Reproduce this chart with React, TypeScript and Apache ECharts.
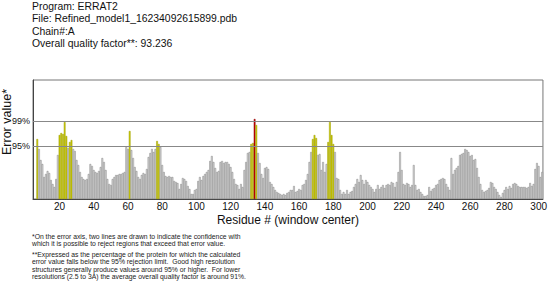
import React, { useEffect, useRef } from "react";
import * as echarts from "echarts";

// ERRAT2 error value per residue (window center), starting at residue 5
const firstResidue = 5;
const errorValues: (number | null)[] = [
  null, null, 12.0, 10.0, 7.8, 7.0, 4.4, 5.0, 5.6, 5.2, 3.8, 3.0, 2.4, 4.0, 8.8,
  12.8, 13.2, 13.0, 15.4, 12.6, 10.2, 11.4, 11.8, 10.0, 9.6, 7.8, 6.8, 5.4, 4.4, 4.0,
  3.8, 4.0, 5.0, 7.0, 6.6, 5.8, 5.4, 5.2, 5.6, 6.4, 8.2, 7.4, 5.8, 4.0, 3.0,
  2.8, 4.0, 4.4, 4.8, 4.8, 5.0, 5.0, 5.2, 5.4, 10.4, 10.0, 13.6, 9.8, 8.2, 6.4,
  5.6, 4.4, 4.0, 4.8, 5.2, 5.0, 6.0, 8.4, 9.2, 10.0, 9.4, 10.0, 11.6, 11.0, 10.4,
  6.8, 5.4, 4.6, 4.4, 4.6, 4.4, 4.4, 3.6, 3.4, 3.2, 2.0, 3.0, 4.2, 4.0, 3.6,
  2.6, 2.0, 1.0, 1.0, 1.8, 2.0, 3.6, 4.4, 3.8, 4.6, 5.0, 5.4, 5.8, 7.6, 8.6,
  7.4, 6.2, 5.4, 5.6, 7.4, 7.6, 7.2, 7.4, 7.4, 7.0, 6.4, 5.4, 4.0, 3.0, 2.8,
  2.0, 3.0, 2.4, 5.8, 7.4, 9.2, 9.4, 11.0, 11.2, 16.0, 14.8, 9.2, 7.2, 5.0, 4.2,
  6.2, 6.4, 6.0, 3.4, 3.0, 2.4, 1.8, 1.4, 1.2, 1.0, 0.8, 1.0, 0.8, 1.2, 1.4,
  1.8, 1.8, 2.6, 1.4, 1.6, 2.0, 1.8, 2.8, 3.0, 3.8, 5.0, 7.4, 9.4, 12.0, 12.8,
  12.2, 8.8, 9.0, 5.8, 7.4, 5.4, 7.0, 11.4, 15.4, 12.8, 11.0, 9.4, 4.2, 4.0, 1.8,
  1.0, 1.4, 1.0, 1.8, 1.0, 1.4, 1.6, 2.4, 3.0, 4.0, 3.4, 4.8, 3.8, 3.0, 3.8,
  3.4, 2.8, 2.4, 2.0, 1.4, 2.0, 2.8, 2.0, 2.4, 2.8, 2.2, 2.8, 3.0, 2.8, 3.4,
  3.2, 2.4, 3.4, 5.4, 9.4, 5.8, 3.0, 2.8, 3.2, 3.0, 2.4, 2.8, 6.8, 2.8, 1.8,
  2.0, 1.4, 1.0, 0.6, 0.6, 0.8, 2.4, 1.6, 2.0, 2.2, 2.8, 3.0, 3.8, 4.0, 4.2,
  4.0, 3.0, 2.4, 1.8, 8.2, 5.0, 5.8, 6.2, 6.6, 8.8, 9.0, 9.2, 10.0, 9.8, 9.4,
  8.6, 8.8, 7.8, 8.0, 6.2, 4.4, 3.0, 1.8, 1.4, 1.6, 1.8, 2.2, 3.4, 3.2, 2.4,
  2.0, 1.4, 0.8, 0.4, 1.2, 1.8, 2.4, 2.0, 2.6, 2.2, 3.0, 3.2, 3.0, 2.6, 2.4,
  2.4, 2.4, 2.4, 2.2, 2.4, 3.2, 2.6, 3.0, 6.0, 7.2, 6.6, 4.4, 5.4,
];
const residues = errorValues.map((_, i) => String(firstResidue + i));
const tickResidues = [20, 40, 60, 80, 100, 120, 140, 160, 180, 200, 220, 240, 260, 280, 300];
const limit99 = 15.6;
const limit95 = 10.6;
const yMax = 23.8;

const headerLines = [
  "Program: ERRAT2",
  "File: Refined_model1_16234092615899.pdb",
  "Chain#:A",
  "Overall quality factor**: 93.236",
];
const noteLines1 = [
  "*On the error axis, two lines are drawn to indicate the confidence with",
  "which it is possible to reject regions that exceed that error value.",
];
const noteLines2 = [
  "**Expressed as the percentage of the protein for which the calculated",
  "error value falls below the 95% rejection limit.  Good high resolution",
  "structures generally produce values around 95% or higher.  For lower",
  "resolutions (2.5 to 3A) the average overall quality factor is around 91%.",
];

const FONT = "'Liberation Sans', Arial, Helvetica, sans-serif";

export default function App() {
  const ref = useRef<HTMLDivElement>(null);
  useEffect(() => {
    if (!ref.current) return;
    const chart = echarts.init(ref.current, undefined, { renderer: "svg" });
    const graphics: any[] = [];
    headerLines.forEach((t, i) => {
      graphics.push({
        type: "text",
        left: 32,
        top: 1.5 + i * 12.4,
        style: { text: t, font: `10.4px ${FONT}`, fill: "#111" },
      });
    });
    noteLines1.forEach((t, i) => {
      graphics.push({
        type: "text",
        left: 32,
        top: 232.5 + i * 7.5,
        style: { text: t, font: `6.8px ${FONT}`, fill: "#222" },
      });
    });
    noteLines2.forEach((t, i) => {
      graphics.push({
        type: "text",
        left: 32,
        top: 250.5 + i * 7.5,
        style: { text: t, font: `6.8px ${FONT}`, fill: "#222" },
      });
    });
    graphics.push({
      type: "text",
      left: 0,
      top: 89,
      rotation: Math.PI / 2,
      style: {
        text: "Error value*",
        font: `12.5px ${FONT}`,
        fill: "#111",
      },
    });

    const isTick = (v: string) => tickResidues.includes(Number(v));

    const barData = errorValues.map((v) => {
      if (v == null) return null;
      if (v >= limit99)
        return { value: v, itemStyle: { color: "#cc0000", borderColor: "#8a0000" } };
      if (v >= limit95)
        return { value: v, itemStyle: { color: "#cccc00", borderColor: "#9c9c00" } };
      return v;
    });

    chart.setOption({
      animation: false,
      graphic: graphics,
      grid: {
        left: 33,
        top: 80,
        width: 514,
        height: 119,
        show: true,
        borderColor: "#777",
        borderWidth: 1,
        backgroundColor: "transparent",
      },
      xAxis: {
        type: "category",
        data: residues,
        boundaryGap: true,
        name: "Residue # (window center)",
        nameLocation: "middle",
        nameGap: 15,
        nameTextStyle: { fontFamily: FONT, fontSize: 12, color: "#111" },
        axisLine: { lineStyle: { color: "#444", width: 1 } },
        axisTick: {
          interval: (_i: number, v: string) => isTick(v),
          alignWithLabel: true,
          length: 2,
          lineStyle: { color: "#444" },
        },
        axisLabel: {
          interval: (_i: number, v: string) => isTick(v),
          fontFamily: FONT,
          fontSize: 10,
          color: "#111",
          margin: 2,
        },
      },
      yAxis: {
        type: "value",
        min: 0,
        max: yMax,
        axisLine: { show: true, lineStyle: { color: "#444" } },
        axisTick: { show: false },
        axisLabel: { show: false },
        splitLine: { show: false },
      },
      series: [
        {
          type: "bar",
          data: barData,
          barCategoryGap: "0%",
          barWidth: "100%",
          itemStyle: {
            color: "#e2e2e2",
            borderColor: "#7c7c7c",
            borderWidth: 0.5,
          },
          markLine: {
            silent: true,
            symbol: "none",
            lineStyle: { color: "#888", width: 1, type: "solid" },
            label: {
              position: "start",
              fontFamily: FONT,
              fontSize: 9,
              color: "#111",
              distance: 3,
            },
            data: [
              { yAxis: limit99, label: { formatter: "99%" } },
              { yAxis: limit95, label: { formatter: "95%" } },
            ],
          },
        },
      ],
    });
    return () => chart.dispose();
  }, []);
  return (
    <div
      ref={ref}
      style={{ position: "fixed", left: 0, top: 0, width: 550, height: 282, background: "#fff" }}
    />
  );
}
